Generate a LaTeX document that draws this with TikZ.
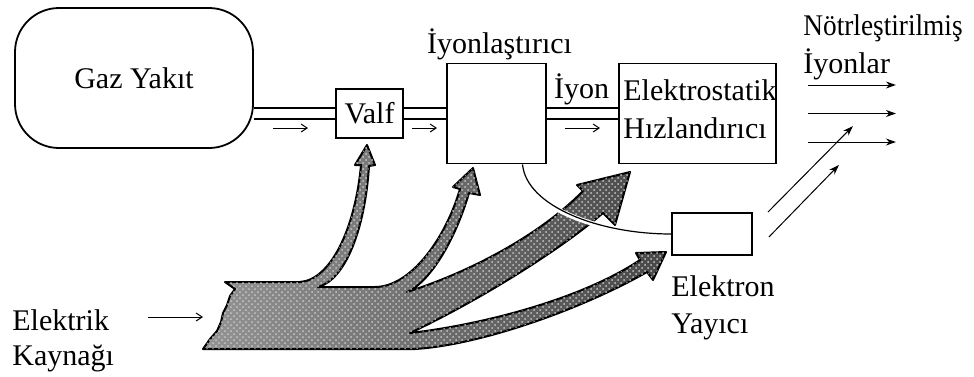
\documentclass[tikz,border=0pt]{standalone}
\usepackage{fontspec}
\setmainfont{Liberation Serif}
\usetikzlibrary{arrows.meta,calc,patterns}

\begin{document}
\begin{tikzpicture}[ x=0.5pt, y=-0.5pt, >=Stealth,
    every node/.style={font=\fontsize{15}{18}\selectfont, inner sep=0pt},
    box/.style={draw, line width=0.9pt},
    pipe/.style={double, double distance=4.8pt, line width=0.7pt},
    flow/.style={-{Straight Barb[length=3pt,width=4pt]}, line width=0.5pt},
    beam/.style={-{Stealth[length=5pt,width=3.5pt]}, line width=0.5pt},
    power/.style={draw, line width=1pt, line join=round, left color=black!42, right color=black!72,
      postaction={pattern=crosshatch dots, pattern color=black!22}} ]
    \def\s{0.5pt}
    \useasboundingbox (0,0) rectangle (974,376);

    % Units
    \node[box, rounded corners=22pt, minimum width=238*\s, minimum height=140*\s] (tank) at (134,78) {Gaz Yakıt};
    \node[box, minimum width=67*\s, minimum height=49*\s] (valve) at (369.5,113.5) {Valf};
    \node[box, minimum width=99*\s, minimum height=100*\s] (ionizer) at (496.5,113.5) {};
    \node[box, minimum width=157*\s, minimum height=100*\s] (accel) at (697.5,113.5) {};
    \node[box, minimum width=80*\s, minimum height=42*\s] (emitter) at (712,234) {};

    % Labels
    \node[anchor=base] (ionlbl) at (499.5,53) {İyonlaştırıcı};
    \node[anchor=base] (ionflow) at (581.5,98) {İyon};
    \node[anchor=base west] (acc1) at (623,100) {Elektrostatik};
    \node[anchor=base west] (acc2) at (623,138) {Hızlandırıcı};
    \node[anchor=base west] (neut1) at (803,35) {\scalebox{0.91}[1]{Nötrleştirilmiş}};
    \node[anchor=base west] (neut2) at (803,73) {İyonlar};
    \node[anchor=base west] (emit1) at (671,296) {Elektron};
    \node[anchor=base west] (emit2) at (671,333) {Yayıcı};
    \node[anchor=base west] (src1) at (12,330) {Elektrik};
    \node[anchor=base west] (src2) at (12,365) {Kaynağı};

    % Pipes
    \draw[pipe] (tank.east |- valve.west) -- (valve.west);
    \draw[pipe] (valve.east) -- (ionizer.west |- valve.east);
    \draw[pipe] (ionizer.east) -- (accel.west);

    % --- Gas flow ---
    \draw[flow] (273,128) -- (308,128);
    \draw[flow] (412,128) -- (437,128);
    \draw[flow] (565,128) -- (600,128);

    % --- Ion beam ---
    \foreach \dy in {-28.5,0,28.5}
      \draw[beam] ($(accel.east)+(31,\dy)$) -- ++(88,0);
    \draw[beam] ($(emitter.north east)+(15,0)$) -- ++(85,-86);
    \draw[beam] ($(emitter.east)+(16,3)$) -- ++(70,-72);

    % --- Electric power ---
    \draw[flow] (148,317) -- (203,317);
    \draw[power] (225,282) -- (300,282)
      .. controls (330,280) and (355,230) .. (361,165) -- (355,165) -- (367,145) -- (375,165) -- (369,166)
      .. controls (365,230) and (345,280) .. (318,287) -- (375,287)
      .. controls (410,287) and (445,240) .. (460,189) -- (453,187) -- (473,168) -- (480,195) -- (469,193)
      .. controls (452,250) and (425,285) .. (407,292)
      .. controls (470,272) and (540,235) .. (583,191) -- (577,185) -- (630,172) -- (615,225) -- (603,213)
      .. controls (560,250) and (480,300) .. (410,333)
      .. controls (480,325) and (580,300) .. (640,260) -- (636,253) -- (666,252) -- (653,280) -- (647,272)
      .. controls (580,310) and (480,345) .. (415,349) -- (203,349)
      -- (210,339) -- (217,331) -- (221,322) -- (223,313) -- (227,305) -- (230,296) -- (235,289) -- cycle;

    % Ionizer to emitter
    \draw[line width=0.6pt, preaction={draw=white, line width=2.4pt, shorten <=3pt, shorten >=3pt}]
      ($(ionizer.south)+(26,0)$) .. controls +(4,42) and +(-72,0) .. (emitter.west);
\end{tikzpicture}
\end{document}
